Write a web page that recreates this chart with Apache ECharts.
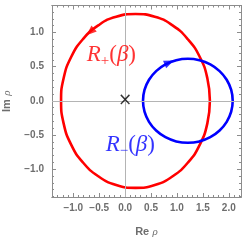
<!DOCTYPE html>
<html><head><meta charset="utf-8">
<script src="https://cdn.jsdelivr.net/npm/echarts@6/dist/echarts.min.js"></script>
<style>html,body{margin:0;padding:0;background:#fff}#c{width:245px;height:245px}</style>
</head><body><div id="c"></div>
<script>
// R+(beta) curve
const redCurve = [
  [1.635, 0], [1.586, 0.330], [1.443, 0.638], [1.210, 0.901], [0.915, 1.104], [0.572, 1.232],
  [0.200, 1.270], [-0.172, 1.232], [-0.518, 1.104], [-0.815, 0.901], [-1.043, 0.638], [-1.186, 0.330],
  [-1.235, 0], [-1.186, -0.330], [-1.043, -0.638], [-0.815, -0.901], [-0.518, -1.104], [-0.172, -1.232],
  [0.200, -1.275], [0.572, -1.232], [0.918, -1.104], [1.215, -0.901], [1.443, -0.638], [1.586, -0.330],
  [1.635, 0]
];
// R-(beta) curve
const blueCurve = [
  [2.075, 0], [2.046, 0.159], [1.959, 0.308], [1.822, 0.435], [1.643, 0.533], [1.434, 0.594],
  [1.210, 0.615], [0.986, 0.594], [0.778, 0.533], [0.598, 0.435], [0.461, 0.308], [0.374, 0.159],
  [0.345, 0], [0.374, -0.159], [0.461, -0.308], [0.598, -0.435], [0.778, -0.533], [0.986, -0.594],
  [1.210, -0.615], [1.434, -0.594], [1.643, -0.533], [1.822, -0.435], [1.959, -0.308], [2.046, -0.159],
  [2.075, 0]
];
const redArrow = [[-0.67, 1.01]];
const blueArrow = [[0.85, 0.56]];
const origin = [[0, 0]];
const redLabelPos = [[-0.265, 0.67]];
const blueLabelPos = [[0.10, -0.647]];

const xMajor = [-1.0, -0.5, 0.0, 0.5, 1.0, 1.5, 2.0];
const xMinor = [-1.4,-1.3,-1.2,-1.1,-0.9,-0.8,-0.7,-0.6,-0.4,-0.3,-0.2,-0.1,0.1,0.2,0.3,0.4,0.6,0.7,0.8,0.9,1.1,1.2,1.3,1.4,1.6,1.7,1.8,1.9,2.1,2.2];
const yMajor = [-1.0, -0.5, 0.0, 0.5, 1.0];
const yMinor = [-1.4,-1.3,-1.2,-1.1,-0.9,-0.8,-0.7,-0.6,-0.4,-0.3,-0.2,-0.1,0.1,0.2,0.3,0.4,0.6,0.7,0.8,0.9,1.1,1.2,1.3,1.4];
const xRange = [-1.41, 2.235];
const yRange = [-1.408, 1.395];

const frame = '#8c8c8c';
const labCol = '#6e6e6e';
const fmt = v => v.toFixed(1).replace('-', '\u2212');

function axis(kind, pos, ticks, len, showLab) {
  const isX = kind === 'x';
  const o = {
    type: 'value', position: pos,
    min: isX ? xRange[0] : yRange[0], max: isX ? xRange[1] : yRange[1],
    axisLine: { show: true, onZero: false, lineStyle: { color: frame, width: 1 } },
    axisTick: { show: true, inside: true, length: len, customValues: ticks, lineStyle: { color: frame, width: 1 } },
    axisLabel: { show: showLab, customValues: isX ? xMajor : yMajor, formatter: fmt, color: labCol,
      fontSize: 10, fontWeight: 'bold', fontFamily: 'Liberation Sans', margin: isX ? 6 : 8 },
    splitLine: { show: false }
  };
  return o;
}
const xa0 = axis('x', 'bottom', xMajor, 4, true);
xa0.name = '{a|Re} {b|\u03c1}';
xa0.nameLocation = 'middle';
xa0.nameGap = 29;
xa0.nameTextStyle = { rich: {
  a: { fontSize: 11, fontWeight: 'bold', color: labCol, fontFamily: 'Liberation Sans' },
  b: { fontSize: 11, fontStyle: 'italic', color: labCol, fontFamily: 'Liberation Serif' } } };
const ya0 = axis('y', 'left', yMajor, 4, true);
ya0.name = '{a|Im} {b|\u03c1}';
ya0.nameLocation = 'middle';
ya0.nameGap = 39;
ya0.nameTextStyle = xa0.nameTextStyle;

const labelRich = col => ({
  r: { fontSize: 23, fontStyle: 'italic', fontFamily: 'Liberation Serif', color: col },
  s: { fontSize: 15, fontFamily: 'Liberation Serif', color: col, padding: [12, 0, 0, 0] },
  p: { fontSize: 23, fontFamily: 'Liberation Serif', color: col },
  b: { fontSize: 23, fontStyle: 'italic', fontFamily: 'Liberation Serif', color: col }
});

const chart = echarts.init(document.getElementById('c'), null, { renderer: 'canvas' });
chart.setOption({
  animation: false,
  grid: { left: 52, right: 4, top: 5.5, bottom: 48, containLabel: false, outerBoundsMode: 'none' },
  xAxis: [
    xa0,
    axis('x', 'bottom', xMinor, 2, false),
    axis('x', 'top', xMajor, 4, false),
    axis('x', 'top', xMinor, 2, false)
  ],
  yAxis: [
    ya0,
    axis('y', 'left', yMinor, 2, false),
    axis('y', 'right', yMajor, 4, false),
    axis('y', 'right', yMinor, 2, false)
  ],
  series: [
    { type: 'line', data: [], z: 1, markLine: { silent: true, symbol: 'none', label: { show: false },
        lineStyle: { color: '#b4b4b4', width: 1, type: 'solid' }, data: [{ xAxis: 0 }, { yAxis: 0 }] } },
    { type: 'line', data: redCurve, smooth: true, showSymbol: false, z: 3,
      lineStyle: { color: '#ff0000', width: 2.6 } },
    { type: 'line', data: blueCurve, smooth: true, showSymbol: false, z: 3,
      lineStyle: { color: '#0000ff', width: 2.6 } },
    { type: 'scatter', data: redArrow, symbol: 'triangle', symbolSize: [8, 10], symbolRotate: 132, z: 4,
      itemStyle: { color: '#ff0000' } },
    { type: 'scatter', data: blueArrow, symbol: 'triangle', symbolSize: [8, 10], symbolRotate: -67, z: 4,
      itemStyle: { color: '#0000ff' } },
    { type: 'scatter', data: origin, symbolSize: 0, z: 5,
      label: { show: true, position: 'inside', formatter: '\u00d7', fontSize: 17, color: '#000', fontFamily: 'DejaVu Sans' } },
    { type: 'scatter', data: redLabelPos, symbolSize: 0, z: 5,
      label: { show: true, position: 'inside', formatter: '{r|R}{s|+}{p|(}{b|\u03b2}{p|)}', rich: labelRich('#ff0000') } },
    { type: 'scatter', data: blueLabelPos, symbolSize: 0, z: 5,
      label: { show: true, position: 'inside', formatter: '{r|R}{s|\u2212}{p|(}{b|\u03b2}{p|)}', rich: labelRich('#0000ff') } }
  ]
});
</script></body></html>
